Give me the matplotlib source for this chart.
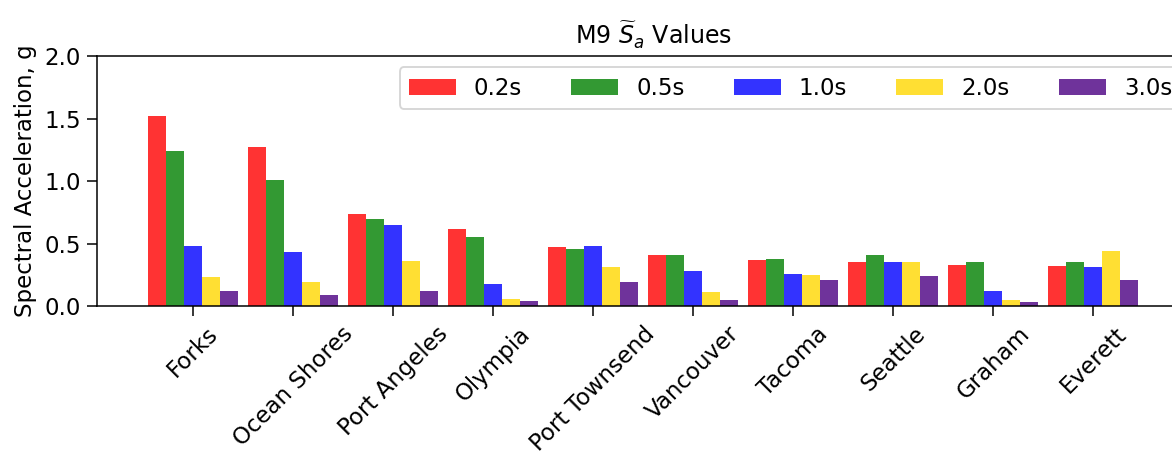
import numpy as np
import matplotlib
matplotlib.use("Agg")
import matplotlib.pyplot as plt

cities = ["Forks", "Ocean Shores", "Port Angeles", "Olympia", "Port Townsend",
          "Vancouver", "Tacoma", "Seattle", "Graham", "Everett"]
periods = ["0.2s", "0.5s", "1.0s", "2.0s", "3.0s"]
sa_02 = [1.52, 1.27, 0.74, 0.62, 0.47, 0.41, 0.37, 0.355, 0.33, 0.32]
sa_05 = [1.24, 1.01, 0.70, 0.55, 0.46, 0.41, 0.38, 0.41, 0.35, 0.35]
sa_10 = [0.48, 0.43, 0.65, 0.18, 0.48, 0.28, 0.26, 0.35, 0.12, 0.31]
sa_20 = [0.23, 0.19, 0.36, 0.06, 0.31, 0.11, 0.25, 0.355, 0.05, 0.44]
sa_30 = [0.12, 0.09, 0.12, 0.04, 0.19, 0.05, 0.21, 0.24, 0.03, 0.21]
colors = ["red", "green", "blue", "gold", "indigo"]

series = [sa_02, sa_05, sa_10, sa_20, sa_30]

dpi = 137
fig = plt.figure(figsize=(1172 / dpi, 452 / dpi), dpi=dpi)
ax = fig.add_axes([0.0828, 0.323, 0.95, 0.553])

x = np.arange(len(cities))
w = 0.18
for i, (vals, lab, c) in enumerate(zip(series, periods, colors)):
    ax.bar(x + (i - 2) * w, vals, w, color=c, alpha=0.8, label=lab)

ax.set_xlim(-0.96, 10.17)
ax.set_ylim(0, 2.0)
ax.set_yticks([0, 0.5, 1.0, 1.5, 2.0])
ax.set_xticks(x)
ax.set_xticklabels(cities, rotation=45, fontsize=12)
ax.tick_params(axis="y", labelsize=12)
ax.tick_params(length=5)
ax.set_ylabel("Spectral Acceleration, g", fontsize=12)
ax.set_title(r"M9 $\widetilde{S}_a$ Values", fontsize=12.5)
ax.legend(ncol=5, loc="upper right", fontsize=12, bbox_to_anchor=(0.984, 1.0),
          handlelength=2.05, columnspacing=2.15)

fig.savefig("out.png", dpi=dpi)
